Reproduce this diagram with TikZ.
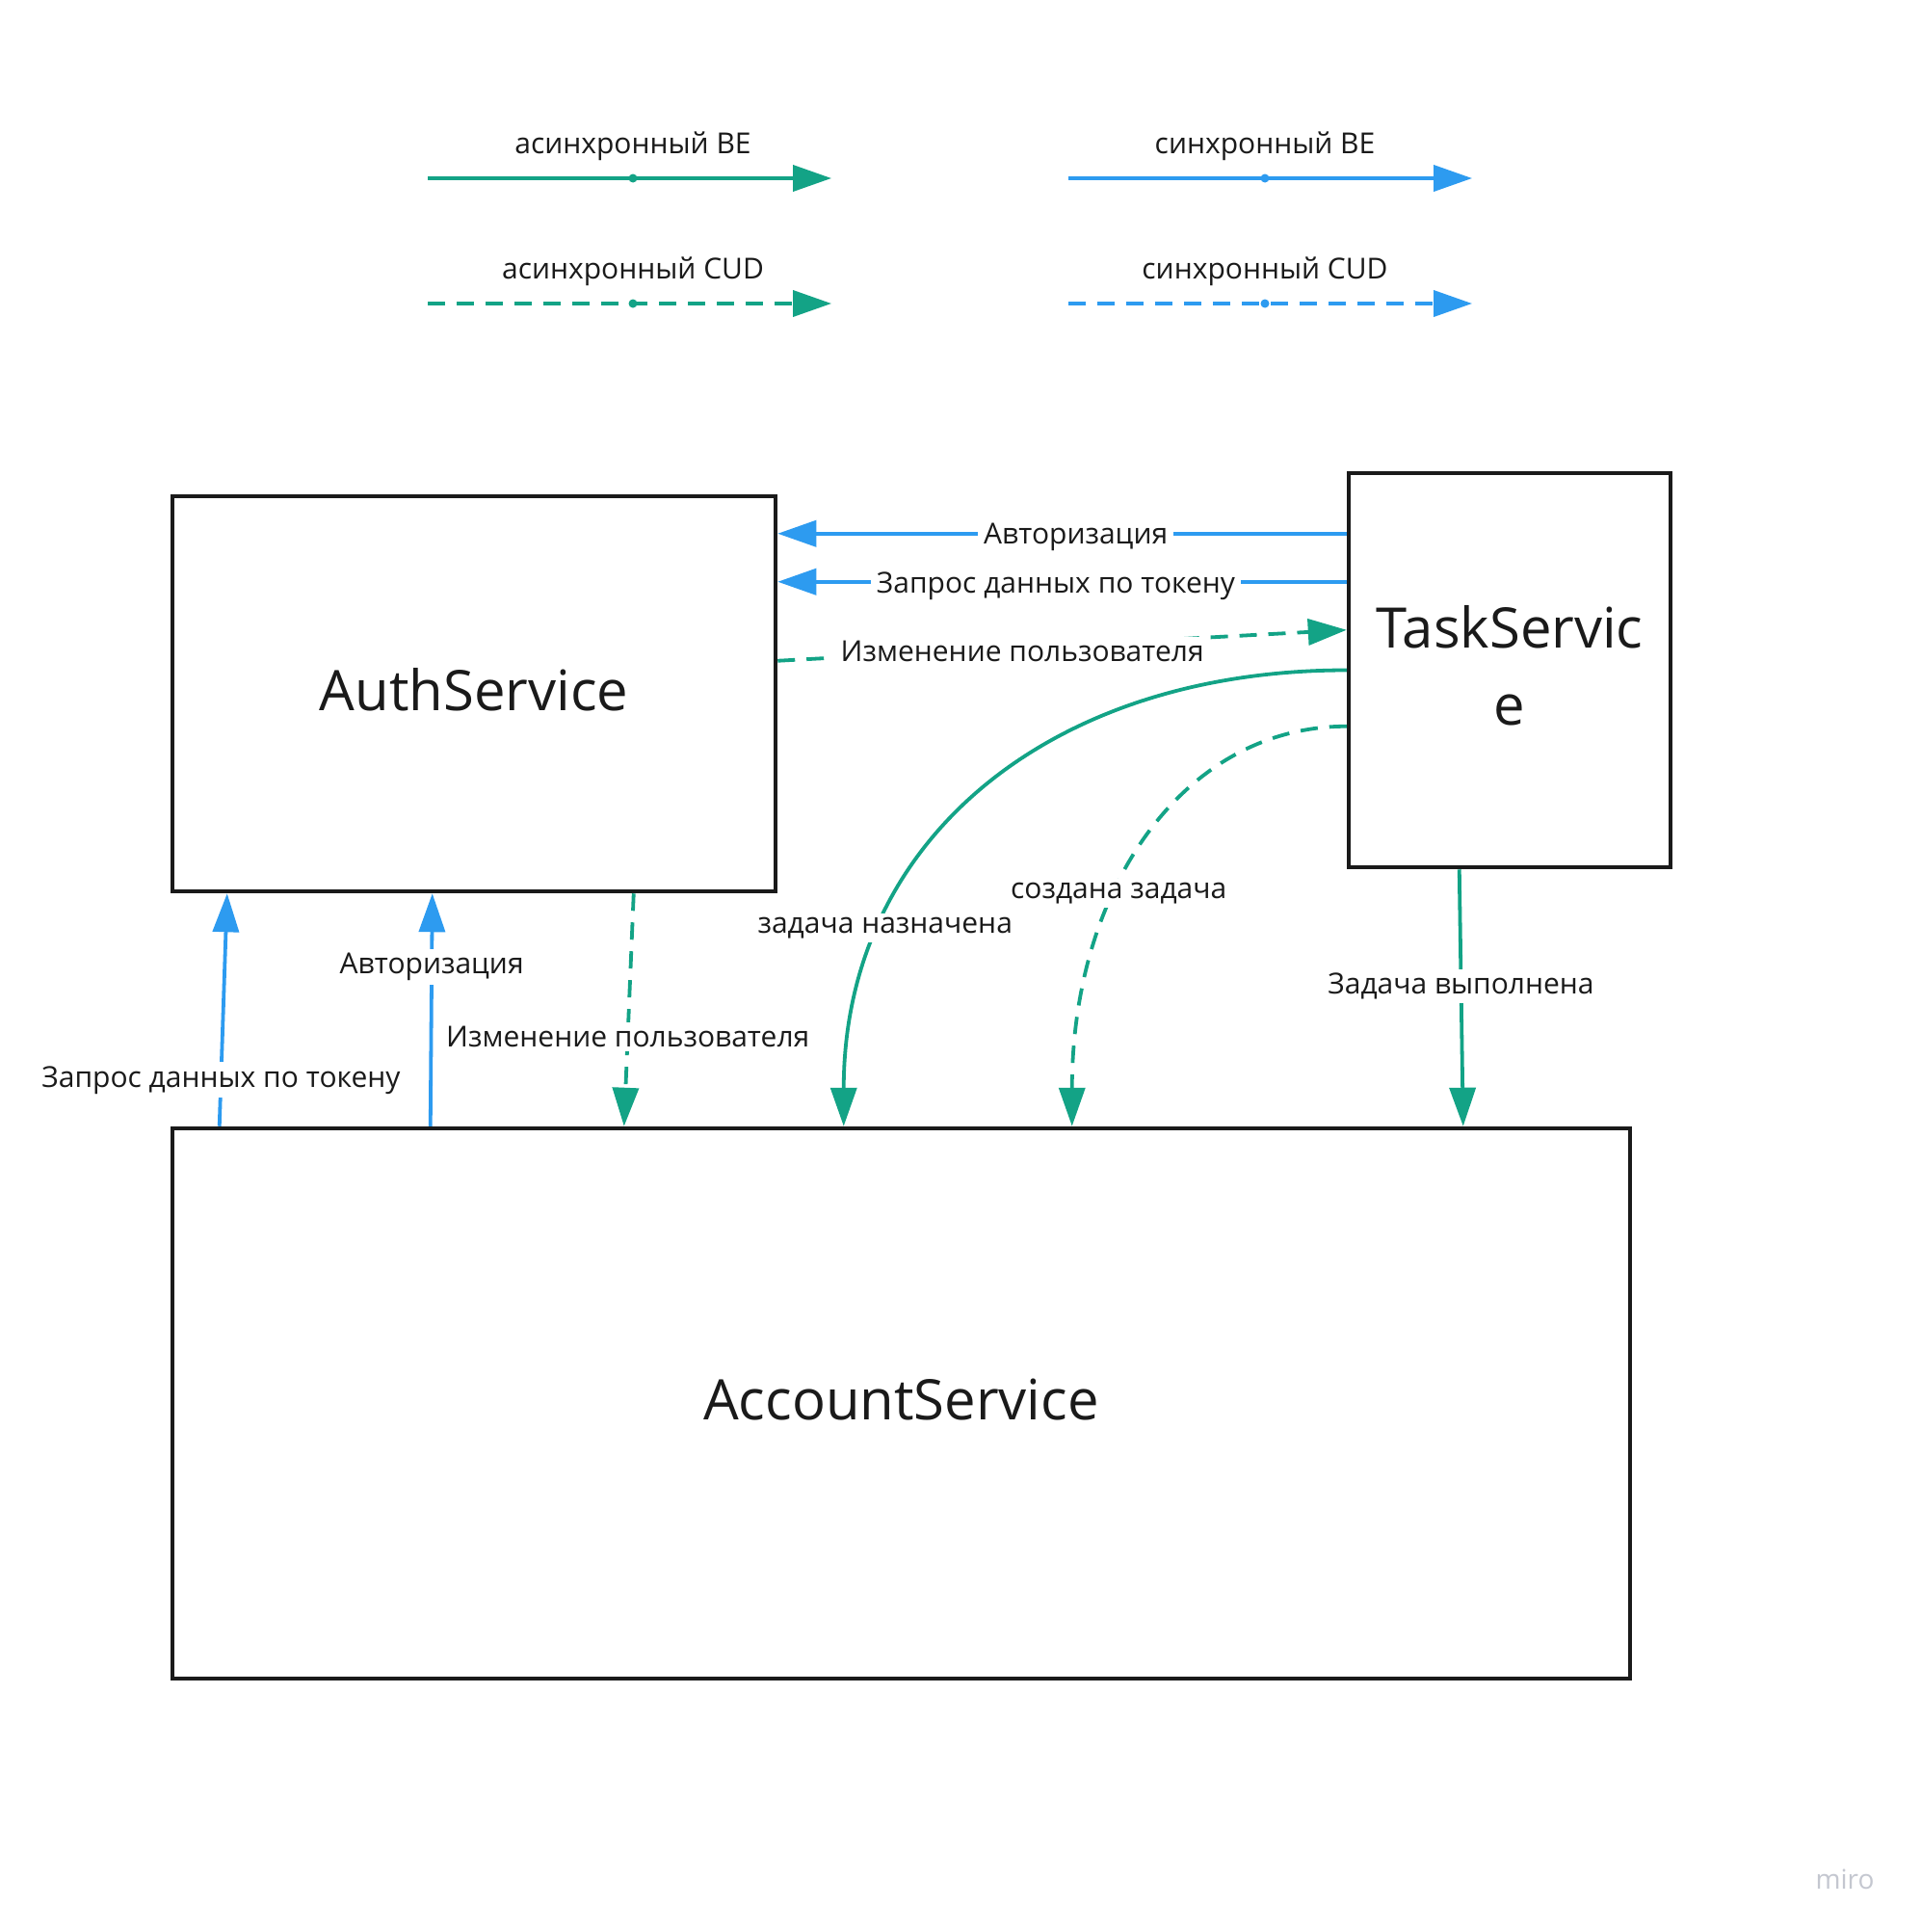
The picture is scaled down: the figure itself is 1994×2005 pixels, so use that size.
\documentclass[tikz,border=0pt]{standalone}
\usepackage{fontspec}
\setmainfont{Open Sans}
\usetikzlibrary{arrows.meta,calc}
\definecolor{grn}{HTML}{13A386}
\definecolor{blu}{HTML}{2D9BF0}
\definecolor{ink}{HTML}{1A1A1A}
\definecolor{wm}{HTML}{C4C7D0}
\begin{document}
\begin{tikzpicture}[x=1pt,y=-1pt,
  box/.style={draw=ink,line width=4.5pt,inner sep=0pt},
  big/.style={text=ink,font=\fontsize{58}{80}\selectfont,align=center,inner sep=0pt},
  lbl/.style={text=ink,font=\fontsize{30}{36}\selectfont,inner sep=2pt,yshift=-4pt},
  onl/.style={lbl,fill=white,inner xsep=6pt,inner ysep=4pt},
  con/.style={line width=3.8pt,-{Triangle[length=40pt,width=27pt]}},
  sync/.style={con,draw=blu},
  async/.style={con,draw=grn},
  cud/.style={dash pattern=on 18pt off 12pt},
]
\useasboundingbox (0,0) rectangle (1994,2005);
\fill[white] (0,0) rectangle (1994,2005);

% legend
\node[lbl] (lg1) at (657,148) {асинхронный BE};
\node[lbl] (lg2) at (1313,148) {синхронный BE};
\node[lbl] (lg3) at (657,278) {асинхронный CUD};
\node[lbl] (lg4) at (1313,278) {синхронный CUD};
\coordinate (a1) at (444,185); \coordinate (b1) at (863,185);
\coordinate (a2) at (1109,185); \coordinate (b2) at (1528,185);
\coordinate (a3) at (444,315); \coordinate (b3) at (863,315);
\coordinate (a4) at (1109,315); \coordinate (b4) at (1528,315);
\draw[async] (a1) -- (b1);
\draw[sync] (a2) -- (b2);
\draw[async,cud] (a3) -- (b3);
\draw[sync,cud] (a4) -- (b4);
\fill[grn] (657,185) circle (4.5pt);
\fill[blu] (1313,185) circle (4.5pt);
\fill[grn] (657,315) circle (4.5pt);
\fill[blu] (1313,315) circle (4.5pt);

% boxes
\node[box,minimum width=626pt,minimum height=410pt] (auth) at (492,720) {};
\node[box,minimum width=334pt,minimum height=409pt] (task) at (1567,695.5) {};
\node[box,minimum width=1513pt,minimum height=571pt] (acc) at (935.5,1456.5) {};
\node[big] (authT) at ([yshift=4pt]auth.center) {AuthService};
\node[big] (taskT) at ([yshift=5pt]task.center) {TaskServic\\e};
\node[big] (accT) at ([yshift=4pt]acc.center) {AccountService};

% Task -> Auth
\draw[sync] ($(task.north west)+(0,65)$) -- node[onl,pos=0.476]{Авторизация} ($(auth.north east)+(0,41)$);
\draw[sync] ($(task.north west)+(0,115)$) -- node[onl,pos=0.511]{Запрос данных по токену} ($(auth.north east)+(0,91)$);
% Auth -> Task
\draw[async,cud] ($(auth.north east)+(0,173)$) -- node[onl,pos=0.43]{Изменение пользователя} ($(task.north west)+(0,165)$);

% Task -> Account
\draw[async] (task.west) .. controls +(-307,0) and +(0,-298) .. node[onl,pos=0.735]{задача назначена} ($(acc.north west)+(699,0)$);
\draw[async,cud] ($(task.north west)+(0,265)$) .. controls +(-169,0) and +(0,-247) .. node[onl,pos=0.613]{создана задача} ($(acc.north west)+(936,0)$);
\draw[async] ($(task.south west)+(117,0)$) -- node[onl,pos=0.44]{Задача выполнена} ($(acc.north west)+(1342,0)$);

% Account -> Auth
\draw[sync] ($(acc.north west)+(51,0)$) -- node[onl,pos=0.215]{Запрос данных по токену} ($(auth.south west)+(59,0)$);
\draw[sync] ($(acc.north west)+(270,0)$) -- node[onl,pos=0.70]{Авторизация} ($(auth.south west)+(272,0)$);
% Auth -> Account
\draw[async,cud] ($(auth.south west)+(481,0)$) -- node[onl,pos=0.60]{Изменение пользователя} ($(acc.north west)+(471,0)$);

% watermark
\node[text=wm,font=\fontsize{28}{30}\selectfont] (miro) at (1915,1950) {miro};
\end{tikzpicture}
\end{document}
